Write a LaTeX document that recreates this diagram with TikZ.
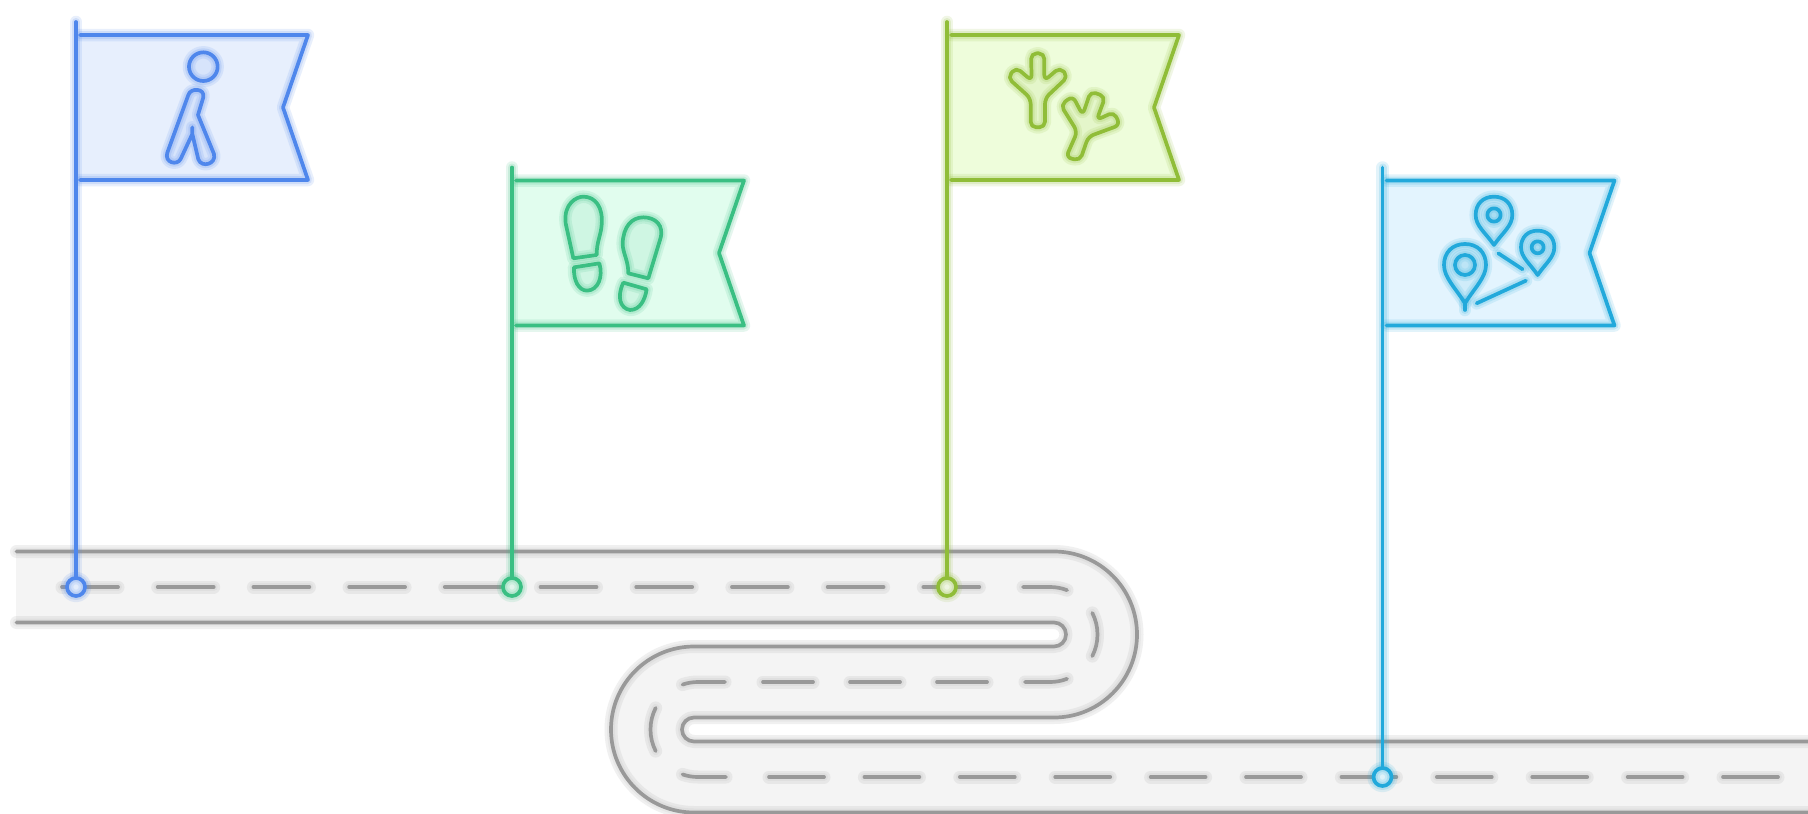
\documentclass[tikz,border=0pt]{standalone}
\definecolor{cblue}{HTML}{4F87EC}\definecolor{fblue}{HTML}{E7EFFD}
\definecolor{cgreen}{HTML}{3ABF83}\definecolor{fgreen}{HTML}{E1FDEE}
\definecolor{colive}{HTML}{90BD38}\definecolor{folive}{HTML}{EEFDDB}
\definecolor{ccyan}{HTML}{22A9DB}\definecolor{fcyan}{HTML}{E3F4FE}
\definecolor{roadline}{HTML}{999999}\definecolor{roadfill}{HTML}{F4F4F4}
\colorlet{cc}{cblue}\colorlet{ff}{fblue}
\tikzset{
  x=1pt,y=1pt,
  halo/.style={line cap=round,line join=round,line width=3.7pt,draw=cc,
    preaction={draw=cc,line cap=round,line join=round,line width=12.5pt,draw opacity=.13},
    preaction={draw=cc,line cap=round,line join=round,line width=8pt,draw opacity=.17}},
  roadstroke/.style={line cap=round,line join=round,line width=3.7pt,draw=roadline,
    preaction={draw=roadline,line cap=round,line join=round,line width=13pt,draw opacity=.14},
    preaction={draw=roadline,line cap=round,line join=round,line width=8pt,draw opacity=.1}},
  iconscale/.style={x=.3333pt,y=-.3333pt},
}
\newcommand{\flagmark}[3]{% x, flag top, base
  \pgfmathsetmacro{\fa}{-(#2)+13}\pgfmathsetmacro{\fb}{-(#2)}
  \pgfmathsetmacro{\fc}{-(#2)-72.5}\pgfmathsetmacro{\fd}{-(#2)-145}
  \pgfmathsetmacro{\fr}{#1+232}\pgfmathsetmacro{\fn}{#1+207}\pgfmathsetmacro{\fs}{#1+4}
  \fill[ff] (#1,\fb) -- (\fr,\fb) -- (\fn,\fc) -- (\fr,\fd) -- (#1,\fd) -- cycle;
  \draw[halo] (\fs,\fb) -- (\fr,\fb) -- (\fn,\fc) -- (\fr,\fd) -- (\fs,\fd);
  \draw[halo] (#1,\fa) -- (#1,-#3);
  \fill[white] (#1,-#3) circle (9pt);
  \fill[cc,opacity=.15] (#1,-#3) circle (9pt);
  \draw[halo] (#1,-#3) circle (9pt);
}
\newcommand{\iconpath}[1]{\fill[cc,opacity=.1] #1; \draw[halo] #1;}
\newcommand{\pinpath}[4]{%
  (#1,#4) .. controls ({#1-.45*#3},{#4-.4*(#4-#2)}) and ({#1-#3},{#2+.6*#3}) .. ({#1-#3},#2)
  .. controls ({#1-#3},{#2-.6*#3}) and ({#1-.6*#3},{#2-#3}) .. (#1,{#2-#3})
  .. controls ({#1+.6*#3},{#2-#3}) and ({#1+#3},{#2-.6*#3}) .. ({#1+#3},#2)
  .. controls ({#1+#3},{#2+.6*#3}) and ({#1+.45*#3},{#4-.4*(#4-#2)}) .. (#1,#4) -- cycle}
\begin{document}
\begin{tikzpicture}
\clip (0,0) rectangle (1808,-814);
\fill[white] (0,0) rectangle (1808,-814);
% road surface
\fill[roadfill] (16,-551.5) -- (1054,-551.5) arc (90:-90:83pt) -- (694,-717.5) arc (90:270:12pt)
  -- (1830,-741.5) -- (1830,-812.5) -- (694,-812.5) arc (270:90:83pt) -- (1054,-646.5)
  arc (-90:90:12pt) -- (16,-622.5) -- cycle;
% road edges
\draw[roadstroke] (16.5,-551.5) -- (1054,-551.5) arc (90:-90:83pt) -- (694,-717.5) arc (90:270:12pt) -- (1830,-741.5);
\draw[roadstroke] (16.5,-622.5) -- (1054,-622.5) arc (90:-90:12pt) -- (694,-646.5) arc (90:270:83pt) -- (1830,-812.5);
% centre line
\foreach \k in {0,...,9}{\pgfmathsetmacro{\xa}{62+95.7*\k}\pgfmathsetmacro{\xb}{\xa+56}
  \draw[roadstroke] (\xa,-587) -- (\xb,-587);}
\draw[roadstroke] (1023,-587) -- (1050,-587) arc (90:69:47.5pt);
\draw[roadstroke] ({1050+47.5*cos(27)},{-634.5+47.5*sin(27)}) arc (27:-27:47.5pt);
\draw[roadstroke] (1025,-682) -- (1050,-682) arc (-90:-69:47.5pt);
\foreach \xa/\xb in {937/987,850/900,763/813}{\draw[roadstroke] (\xa,-682) -- (\xb,-682);}
\draw[roadstroke] (725,-682) -- (698,-682) arc (90:109:47.5pt);
\draw[roadstroke] ({698+47.5*cos(153)},{-729.5+47.5*sin(153)}) arc (153:207:47.5pt);
\draw[roadstroke] (726,-777) -- (698,-777) arc (270:251:47.5pt);
\foreach \k in {0,...,10}{\pgfmathsetmacro{\xa}{769+95.4*\k}\pgfmathsetmacro{\xb}{\xa+55}
  \draw[roadstroke] (\xa,-777) -- (\xb,-777);}
% flag 1
\begin{scope}
\colorlet{cc}{cblue}\colorlet{ff}{fblue}
\flagmark{76}{35}{587}
\begin{scope}[shift={(60,-10)},iconscale]
\iconpath{(430,170) circle (43)}
\iconpath{(397,352) -- (397,372) -- (362,447) .. controls (352,468) and (312,458) .. (322,428) -- (385,255) .. controls (392,232) and (436,235) .. (430,262) -- (414,315) -- (462,432) .. controls (470,462) and (425,475) .. (415,448) -- (397,372)}
\end{scope}
\end{scope}
% flag 2
\begin{scope}
\colorlet{cc}{cgreen}\colorlet{ff}{fgreen}
\flagmark{512}{180.5}{587}
\begin{scope}[shift={(500,-160)},iconscale]
\iconpath{(220,295) -- (197,190) .. controls (190,130) and (230,110) .. (250,110) .. controls (285,110) and (310,140) .. (305,195) .. controls (303,225) and (290,245) .. (290,285) -- cycle}
\iconpath{(222,322) -- (298,310) .. controls (310,350) and (295,390) .. (262,392) .. controls (235,392) and (220,360) .. (222,322) -- cycle}
\iconpath{(385,340) -- (445,355) -- (480,240) .. controls (495,195) and (465,172) .. (430,172) .. controls (395,172) and (370,200) .. (368,250) .. controls (368,280) and (385,300) .. (385,340) -- cycle}
\iconpath{(370,368) -- (440,388) .. controls (435,420) and (420,450) .. (390,450) .. controls (360,445) and (350,410) .. (370,368) -- cycle}
\end{scope}
\end{scope}
% flag 3
\begin{scope}
\colorlet{cc}{colive}\colorlet{ff}{folive}
\flagmark{947}{35}{587}
\begin{scope}[shift={(940,-10)},iconscale]
\iconpath{[rounded corners=5.6pt] (272,352) -- (272,265) -- (203,203) -- (228,172) -- (275,212) -- (273,130) -- (313,130) -- (313,212) -- (360,172) -- (384,200) -- (315,265) -- (315,352) -- cycle}
\iconpath{[rounded corners=5.6pt] (378,442) -- (412,365) -- (362,285) -- (398,258) -- (428,315) -- (452,244) -- (496,260) -- (470,330) -- (522,306) -- (540,345) -- (445,380) -- (420,452) -- cycle}
\end{scope}
\end{scope}
% flag 4
\begin{scope}
\colorlet{cc}{ccyan}\colorlet{ff}{fcyan}
\flagmark{1382.5}{180.5}{777}
\begin{scope}[shift={(1370,-160)},iconscale]
\iconpath{\pinpath{372}{165}{55}{255}}
\iconpath{(372,165) circle (20)}
\iconpath{\pinpath{503}{262}{50}{345}}
\iconpath{(503,262) circle (18)}
\iconpath{\pinpath{285}{315}{63}{430}}
\draw[halo] (285,425) -- (285,450);
\iconpath{(285,315) circle (30)}
\draw[halo] (385,280) -- (458,328);
\draw[halo] (320,430) -- (468,362);
\end{scope}
\end{scope}
\end{tikzpicture}
\end{document}
